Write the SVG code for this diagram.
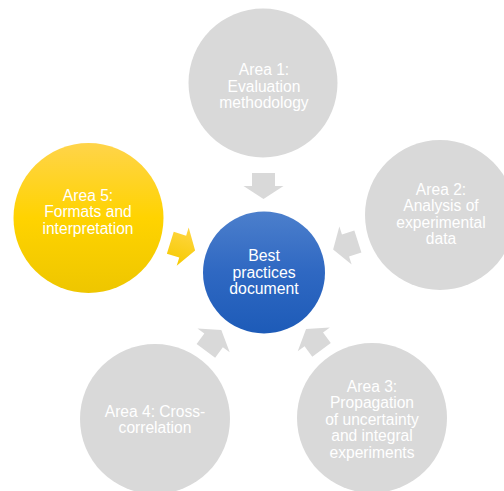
<svg xmlns="http://www.w3.org/2000/svg" width="504" height="491" viewBox="0 0 504 491">
<defs>
<linearGradient id="gBlue" x1="0" y1="0" x2="0" y2="1">
<stop offset="0" stop-color="#4c7fcc"/>
<stop offset="0.5" stop-color="#2f68c2"/>
<stop offset="1" stop-color="#1d5bb8"/>
</linearGradient>
<linearGradient id="gYellow" x1="0" y1="0" x2="0" y2="1">
<stop offset="0" stop-color="#ffd44a"/>
<stop offset="0.5" stop-color="#ffd300"/>
<stop offset="1" stop-color="#eec600"/>
</linearGradient>
<linearGradient id="gYellowArrow" x1="0" y1="0" x2="0" y2="1">
<stop offset="0" stop-color="#ffd644"/>
<stop offset="1" stop-color="#f6ca00"/>
</linearGradient>
<path id="arw" d="M -13,-11.5 L 0,-11.5 L 0,-20 L 13,0 L 0,20 L 0,11.5 L -13,11.5 Z"/>
</defs>
<style>
.gray{fill:#d9d9d9}
.t{font-family:"Liberation Sans",Arial,sans-serif;font-size:15.6px;fill:#ffffff;text-anchor:middle}
.tc{font-family:"Liberation Sans",Arial,sans-serif;font-size:15.8px;fill:#ffffff;text-anchor:middle}
</style>
<rect width="504" height="491" fill="#ffffff"/>
<g id="connectors">
<use href="#arw" class="gray" transform="translate(263.5,186) rotate(90)"/>
<use href="#arw" class="gray" transform="translate(345.5,245.5) rotate(162.1)"/>
<use href="#arw" class="gray" transform="translate(313.8,339.4) rotate(-126.5)"/>
<use href="#arw" class="gray" transform="translate(213.6,340.4) rotate(-53.6)"/>
<use href="#arw" fill="url(#gYellowArrow)" transform="translate(182.7,246.6) rotate(17.4)"/>
</g>
<g id="area1">
<circle class="gray" cx="263" cy="83" r="74.5"/>
<text class="t" x="264" y="75">Area 1:</text>
<text class="t" x="264" y="91.5">Evaluation</text>
<text class="t" x="264" y="108">methodology</text>
</g>
<g id="area2">
<circle class="gray" cx="440" cy="215" r="75"/>
<text class="t" x="441" y="194.5">Area 2:</text>
<text class="t" x="441" y="211">Analysis of</text>
<text class="t" x="441" y="227.5">experimental</text>
<text class="t" x="441" y="244">data</text>
</g>
<g id="area3">
<circle class="gray" cx="372" cy="418" r="75"/>
<text class="t" x="372" y="391.5">Area 3:</text>
<text class="t" x="372" y="408">Propagation</text>
<text class="t" x="372" y="424.5">of uncertainty</text>
<text class="t" x="372" y="441">and integral</text>
<text class="t" x="372" y="457.5">experiments</text>
</g>
<g id="area4">
<circle class="gray" cx="155" cy="419" r="75"/>
<text class="t" x="155" y="416.5">Area 4: Cross-</text>
<text class="t" x="155" y="433">correlation</text>
</g>
<g id="area5">
<circle fill="url(#gYellow)" cx="88.5" cy="218" r="75"/>
<text class="t" x="88" y="200.5">Area 5:</text>
<text class="t" x="88" y="217">Formats and</text>
<text class="t" x="88" y="233.5">interpretation</text>
</g>
<g id="center">
<circle fill="url(#gBlue)" cx="264" cy="272.5" r="61"/>
<text class="tc" x="264" y="261">Best</text>
<text class="tc" x="264" y="277.5">practices</text>
<text class="tc" x="264" y="294">document</text>
</g>
</svg>
